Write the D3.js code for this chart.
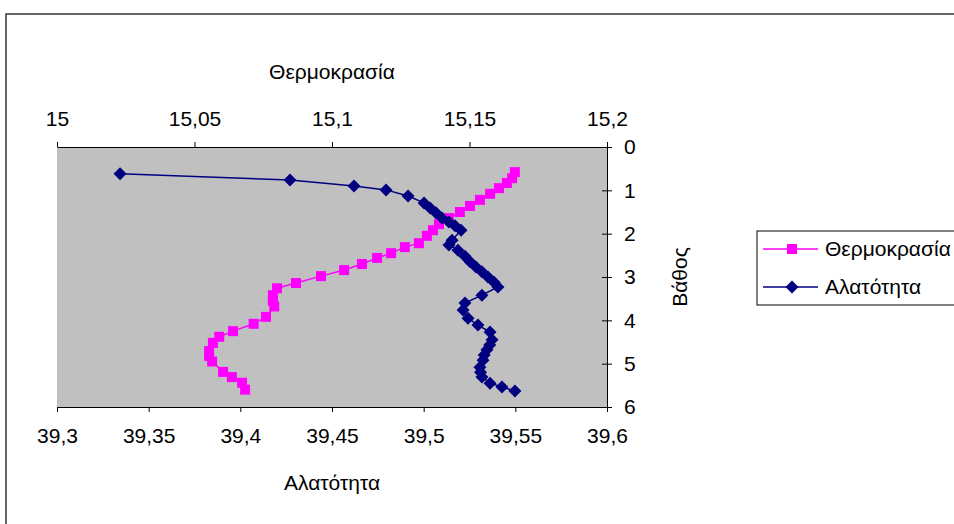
<!DOCTYPE html>
<meta charset="utf-8">
<style>
    body { margin: 0; background: #fff; }
    svg { display: block; }
    .lbl { font: 21px "Liberation Sans", Arial, sans-serif; fill: #000; }
    .axis path, .axis line { stroke: #000; stroke-width: 1px; }
    .axis text { font: 21px "Liberation Sans", Arial, sans-serif; fill: #000; }
</style>
<svg width="954" height="524"></svg>
<script src="https://d3js.org/d3.v7.min.js"></script>
<script>

    // Θερμοκρασία (top axis) vs depth
    var tempDepth = [0.58, 0.72, 0.83, 0.95, 1.08, 1.22, 1.36, 1.50, 1.64, 1.78, 1.92, 2.05, 2.22,
        2.31, 2.45, 2.56, 2.70, 2.84, 2.98, 3.14, 3.26, 3.42, 3.55, 3.68, 3.92, 4.08, 4.25, 4.38,
        4.52, 4.71, 4.82, 4.95, 5.19, 5.31, 5.44, 5.60];
    var tempValues = [15.1665, 15.1655, 15.1636, 15.1607, 15.1575, 15.1538, 15.1502, 15.1465,
        15.1425, 15.1389, 15.1367, 15.1345, 15.1316, 15.1265, 15.1215, 15.1164, 15.1109, 15.1044,
        15.0960, 15.0869, 15.0800, 15.0785, 15.0785, 15.0790, 15.0760, 15.0715, 15.0640, 15.0590,
        15.0567, 15.0553, 15.0553, 15.0564, 15.0604, 15.0636, 15.0673, 15.0684];

    // Αλατότητα (bottom axis) vs depth
    var salDepth = [0.62, 0.76, 0.90, 0.99, 1.13, 1.29, 1.41, 1.52, 1.64, 1.73, 1.82, 1.92, 2.15,
        2.26, 2.38, 2.52, 2.65, 2.77, 2.88, 3.00, 3.12, 3.23, 3.42, 3.60, 3.76, 3.95, 4.11, 4.27,
        4.45, 4.57, 4.68, 4.80, 4.92, 5.08, 5.20, 5.31, 5.45, 5.54, 5.63];
    var salValues = [39.3344, 39.4271, 39.4620, 39.4795, 39.4915, 39.5002, 39.5035, 39.5067,
        39.5100, 39.5138, 39.5171, 39.5204, 39.5155, 39.5138, 39.5187, 39.5225, 39.5253, 39.5285,
        39.5318, 39.5351, 39.5384, 39.5405, 39.5318, 39.5225, 39.5215, 39.5242, 39.5296, 39.5362,
        39.5373, 39.5360, 39.5345, 39.5330, 39.5324, 39.5307, 39.5310, 39.5318, 39.5362, 39.5427,
        39.5498];

    var tempTicks = [15, 15.05, 15.1, 15.15, 15.2];
    var salTicks = [39.3, 39.35, 39.4, 39.45, 39.5, 39.55, 39.6];
    var depthTicks = [0, 1, 2, 3, 4, 5, 6];

    var svg = d3.select("svg");
    var comma = function (v) { return String(v).replace(".", ","); };

    var xT = d3.scaleLinear().domain([15, 15.2]).range([57, 607]);
    var xS = d3.scaleLinear().domain([39.3, 39.6]).range([57, 607]);
    var y = d3.scaleLinear().domain([0, 6]).range([147, 407]);

    // outer chart border (open on the right and bottom)
    svg.append("path")
        .attr("d", "M6,524 V14 H954")
        .attr("fill", "none")
        .attr("stroke", "#333")
        .attr("stroke-width", 1.5);

    // plot area
    svg.append("rect")
        .attr("x", 57).attr("y", 147)
        .attr("width", 550).attr("height", 260)
        .attr("fill", "#c0c0c0");

    svg.append("g").attr("class", "axis")
        .attr("transform", "translate(0,147)")
        .call(d3.axisTop(xT).tickValues(tempTicks).tickFormat(comma).tickSize(5).tickSizeOuter(0).tickPadding(16));

    svg.append("g").attr("class", "axis")
        .attr("transform", "translate(0,407)")
        .call(d3.axisBottom(xS).tickValues(salTicks).tickFormat(comma).tickSize(5).tickSizeOuter(0).tickPadding(16));

    var right = svg.append("g").attr("class", "axis")
        .attr("transform", "translate(607,0)")
        .call(d3.axisRight(y).tickValues(depthTicks).tickFormat(d3.format("d")).tickSize(5).tickSizeOuter(0).tickPadding(12));
    right.selectAll(".tick line").attr("x1", -5);

    // axis titles
    svg.append("text").attr("class", "lbl")
        .attr("x", 332).attr("y", 79).attr("text-anchor", "middle")
        .text("Θερμοκρασία");
    svg.append("text").attr("class", "lbl")
        .attr("x", 332).attr("y", 490).attr("text-anchor", "middle")
        .text("Αλατότητα");
    svg.append("text").attr("class", "lbl")
        .attr("transform", "translate(687,277) rotate(-90)")
        .attr("text-anchor", "middle")
        .text("Βάθος");

    var tempColor = "#ff00ff", salColor = "#000080";
    var diamond = function (r) { return "M0," + (-r) + "L" + r + ",0L0," + r + "L" + (-r) + ",0Z"; };

    var tempPts = tempValues.map(function (v, i) { return [xT(v), y(tempDepth[i])]; });
    var salPts = salValues.map(function (v, i) { return [xS(v), y(salDepth[i])]; });

    svg.append("path")
        .attr("d", d3.line()(tempPts))
        .attr("fill", "none").attr("stroke", tempColor).attr("stroke-width", 1.5);
    svg.append("path")
        .attr("d", d3.line()(salPts))
        .attr("fill", "none").attr("stroke", salColor).attr("stroke-width", 1.5);

    svg.selectAll(".tmark")
        .data(tempPts)
        .enter().append("rect")
        .attr("x", function (d) { return d[0] - 5; })
        .attr("y", function (d) { return d[1] - 5; })
        .attr("width", 10).attr("height", 10)
        .attr("fill", tempColor);

    svg.selectAll(".smark")
        .data(salPts)
        .enter().append("path")
        .attr("transform", function (d) { return "translate(" + d[0] + "," + d[1] + ")"; })
        .attr("d", diamond(6.5))
        .attr("fill", salColor);

    // legend
    var legend = svg.append("g");
    legend.append("rect")
        .attr("x", 757).attr("y", 231)
        .attr("width", 210).attr("height", 74)
        .attr("fill", "#fff").attr("stroke", "#000").attr("stroke-width", 1);

    var items = [
        {name: "Θερμοκρασία", color: tempColor, square: true, cy: 249},
        {name: "Αλατότητα", color: salColor, square: false, cy: 287}
    ];
    items.forEach(function (it) {
        legend.append("line")
            .attr("x1", 763).attr("x2", 818)
            .attr("y1", it.cy).attr("y2", it.cy)
            .attr("stroke", it.color).attr("stroke-width", 1.5);
        if (it.square) {
            legend.append("rect")
                .attr("x", 787).attr("y", it.cy - 5)
                .attr("width", 10).attr("height", 10)
                .attr("fill", it.color);
        } else {
            legend.append("path")
                .attr("transform", "translate(792," + it.cy + ")")
                .attr("d", diamond(6.5))
                .attr("fill", it.color);
        }
        legend.append("text").attr("class", "lbl")
            .attr("x", 825).attr("y", it.cy + 7)
            .text(it.name);
    });
</script>
